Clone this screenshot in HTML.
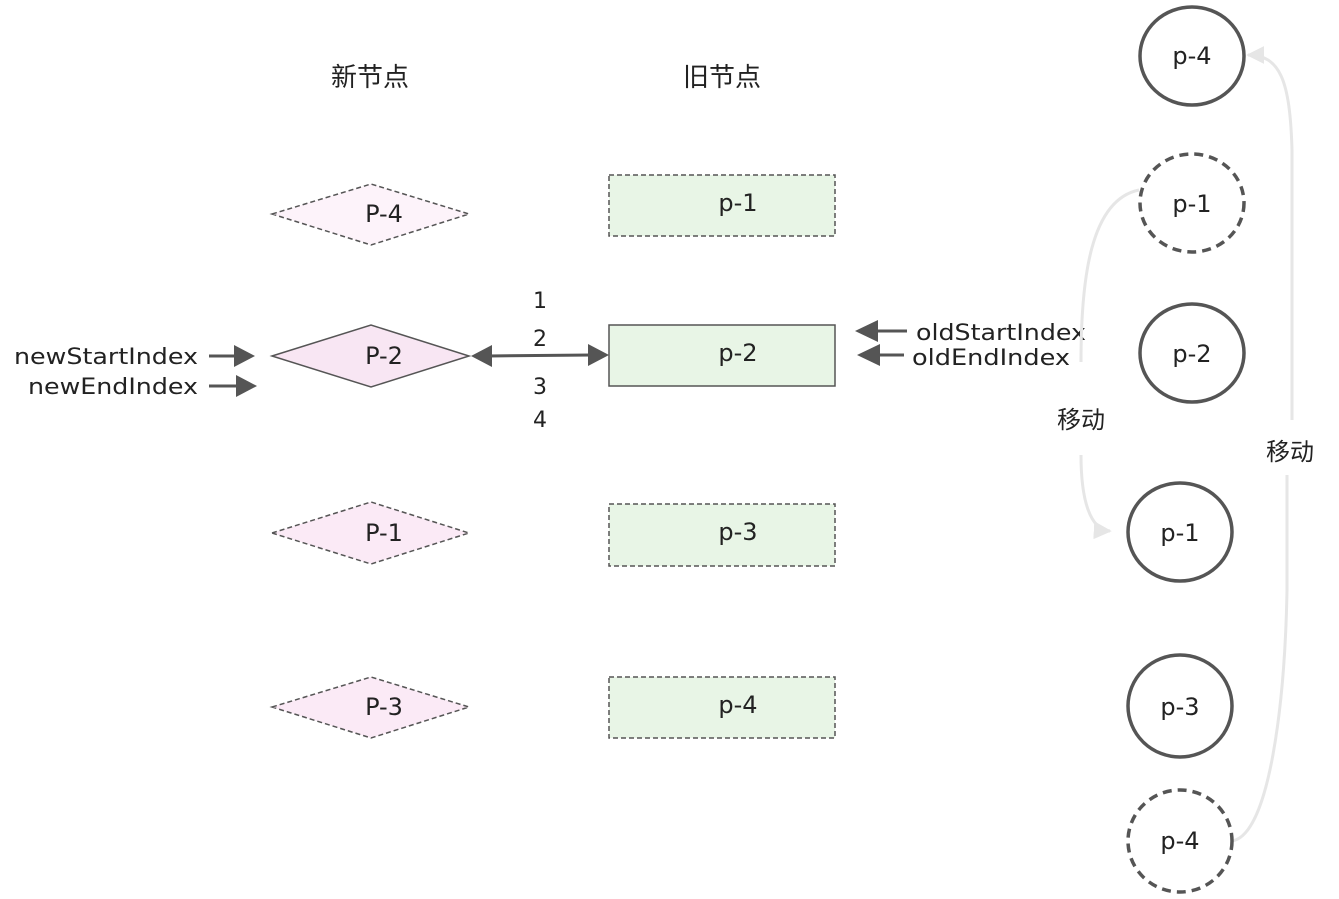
<!DOCTYPE html>
<html><head><meta charset="utf-8"><style>
html,body{margin:0;padding:0;background:#fff;}
svg{display:block;}
text{font-family:"DejaVu Sans","Noto Sans CJK SC",sans-serif;fill:#222;}
.cjk{font-family:"Noto Sans CJK SC",sans-serif;}
</style></head><body>
<svg width="1339" height="899" viewBox="0 0 1339 899" xmlns="http://www.w3.org/2000/svg">
<defs>
<marker id="ag" viewBox="0 0 10 10" markerWidth="18" markerHeight="18" refX="9" refY="5" orient="auto" markerUnits="userSpaceOnUse"><path d="M0,0 L10,5 L0,10 Z" fill="#e6e6e6"/></marker>
</defs>
<text class="cjk" x="370" y="86" font-size="26" text-anchor="middle">新节点</text>
<text class="cjk" x="722" y="86" font-size="26" text-anchor="middle">旧节点</text>

<g stroke="#555" stroke-width="1.5">
<polygon points="272,214 371,184 469,214 371,245" fill="#fdf3fa" stroke-dasharray="5,3"/>
<polygon points="272,356 371,325 469,356 371,387" fill="#f8e6f3"/>
<polygon points="272,533 371,502 469,533 371,564" fill="#fbeaf6" stroke-dasharray="5,3"/>
<polygon points="272,707 371,677 469,707 371,738" fill="#fbeaf6" stroke-dasharray="5,3"/>
</g>
<g font-size="24" text-anchor="middle">
<text x="384" y="222">P-4</text>
<text x="384" y="364">P-2</text>
<text x="384" y="541">P-1</text>
<text x="384" y="715">P-3</text>
</g>

<g stroke="#555" stroke-width="1.5" fill="#e8f5e6">
<rect x="609" y="175" width="226" height="61" stroke-dasharray="5,3"/>
<rect x="609" y="325" width="226" height="61"/>
<rect x="609" y="504" width="226" height="62" stroke-dasharray="5,3"/>
<rect x="609" y="677" width="226" height="61" stroke-dasharray="5,3"/>
</g>
<g font-size="24" text-anchor="middle">
<text x="738" y="211">p-1</text>
<text x="738" y="361">p-2</text>
<text x="738" y="540">p-3</text>
<text x="738" y="713">p-4</text>
</g>

<line x1="488" y1="356" x2="592" y2="355" stroke="#555" stroke-width="3"/>
<polygon points="471,356 492,345 492,367" fill="#555"/>
<polygon points="609,355 588,344 588,366" fill="#555"/>
<g font-size="22" text-anchor="middle">
<text x="540" y="308">1</text>
<text x="540" y="346">2</text>
<text x="540" y="394">3</text>
<text x="540" y="427">4</text>
</g>

<text x="198" y="364" font-size="22" text-anchor="end" textLength="184" lengthAdjust="spacingAndGlyphs">newStartIndex</text>
<text x="198" y="394" font-size="22" text-anchor="end" textLength="170" lengthAdjust="spacingAndGlyphs">newEndIndex</text>
<line x1="209" y1="356" x2="238" y2="356" stroke="#555" stroke-width="3"/>
<polygon points="255,356 234,345 234,367" fill="#555"/>
<line x1="209" y1="386" x2="238" y2="386" stroke="#555" stroke-width="3"/>
<polygon points="257,386 236,375 236,397" fill="#555"/>

<line x1="876" y1="331" x2="907" y2="331" stroke="#555" stroke-width="3"/>
<polygon points="855,331 878,320 878,342" fill="#555"/>
<line x1="878" y1="355" x2="904" y2="355" stroke="#555" stroke-width="3"/>
<polygon points="857,355 880,344 880,366" fill="#555"/>
<text x="916" y="340" font-size="22" textLength="170" lengthAdjust="spacingAndGlyphs">oldStartIndex</text>
<text x="912" y="365" font-size="22" textLength="158" lengthAdjust="spacingAndGlyphs">oldEndIndex</text>

<path d="M1139,190 C1090,200 1081,280 1081,362" fill="none" stroke="#e6e6e6" stroke-width="3"/>
<path d="M1081,455 C1081,500 1090,530 1110,531" fill="none" stroke="#e6e6e6" stroke-width="3" marker-end="url(#ag)"/>
<text class="cjk" x="1081" y="428" font-size="24" text-anchor="middle">移动</text>
<path d="M1232,841 C1270,835 1285,700 1287,590 L1287,475" fill="none" stroke="#e6e6e6" stroke-width="3"/>
<path d="M1292,420 L1292,150 C1290,80 1280,55 1248,55" fill="none" stroke="#e6e6e6" stroke-width="3" marker-end="url(#ag)"/>
<text class="cjk" x="1290" y="460" font-size="24" text-anchor="middle">移动</text>

<g stroke="#555" stroke-width="3.5" fill="#fff">
<ellipse cx="1192" cy="56" rx="52" ry="49"/>
<ellipse cx="1192" cy="203" rx="52" ry="49" stroke-dasharray="9,6"/>
<ellipse cx="1192" cy="353" rx="52" ry="49"/>
<ellipse cx="1180" cy="532" rx="52" ry="49"/>
<ellipse cx="1180" cy="706" rx="52" ry="51"/>
<ellipse cx="1180" cy="841" rx="52" ry="51" stroke-dasharray="9,6"/>
</g>
<g font-size="24" text-anchor="middle">
<text x="1192" y="64">p-4</text>
<text x="1192" y="212">p-1</text>
<text x="1192" y="362">p-2</text>
<text x="1180" y="541">p-1</text>
<text x="1180" y="715">p-3</text>
<text x="1180" y="849">p-4</text>
</g>
</svg>
</body></html>
